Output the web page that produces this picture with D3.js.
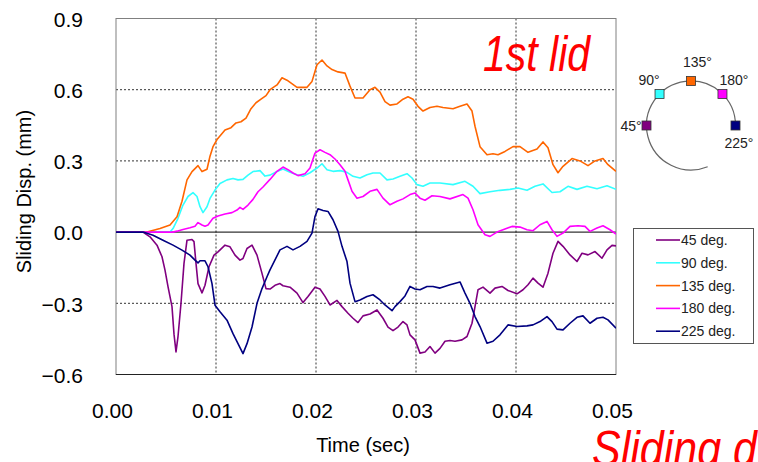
<!DOCTYPE html>
<html>
<head>
<meta charset="utf-8">
<script src="https://cdn.jsdelivr.net/npm/d3@7"></script>
<style>
  html, body { margin: 0; padding: 0; background: #fff; }
  svg { display: block; font-family: "Liberation Sans", Arial, sans-serif; }
</style>
</head>
<body>
<svg id="chart" width="758" height="462"></svg>
<script>
// Sliding displacement of the 1st lid, one record per gauge angle.
// Each point: [time in ms, displacement in mm]
const deg45 = [[0,0],[2.7,0],[3.4,-0.02],[4.1,-0.055],[4.6,-0.104],[4.9,-0.16],[5.2,-0.23],[5.6,-0.314],[5.8,-0.43],[6.0,-0.505],[6.2,-0.44],[6.5,-0.30],[6.8,-0.132],[7.1,-0.034],[7.6,-0.031],[7.8,-0.04],[8.0,-0.132],[8.2,-0.217],[8.6,-0.256],[8.9,-0.224],[9.3,-0.146],[9.8,-0.097],[10.2,-0.083],[10.9,-0.055],[11.4,-0.062],[11.9,-0.097],[12.4,-0.118],[12.7,-0.111],[13.1,-0.069],[13.6,-0.055],[14.1,-0.097],[14.6,-0.174],[15.0,-0.238],[15.4,-0.24],[15.9,-0.224],[16.4,-0.217],[16.7,-0.226],[17.4,-0.232],[18.1,-0.257],[18.7,-0.297],[19.2,-0.271],[19.9,-0.232],[20.4,-0.24],[20.9,-0.271],[21.4,-0.307],[22.1,-0.288],[22.6,-0.314],[23.2,-0.342],[23.7,-0.363],[24.2,-0.381],[24.7,-0.353],[25.4,-0.345],[26.1,-0.328],[26.7,-0.363],[27.2,-0.40],[27.7,-0.415],[28.2,-0.40],[28.7,-0.377],[29.1,-0.391],[29.4,-0.433],[29.9,-0.454],[30.4,-0.51],[30.9,-0.505],[31.4,-0.482],[31.9,-0.51],[32.4,-0.49],[32.9,-0.46],[33.4,-0.457],[33.9,-0.46],[34.6,-0.454],[35.1,-0.44],[35.6,-0.384],[35.9,-0.314],[36.2,-0.243],[36.7,-0.232],[37.4,-0.257],[37.9,-0.236],[38.6,-0.229],[39.2,-0.246],[40.1,-0.26],[40.7,-0.243],[41.2,-0.222],[41.7,-0.194],[42.2,-0.215],[42.7,-0.232],[43.2,-0.173],[43.7,-0.089],[44.2,-0.039],[44.7,-0.06],[45.4,-0.096],[46.1,-0.124],[46.6,-0.089],[47.2,-0.096],[47.9,-0.082],[48.6,-0.11],[49.1,-0.075],[49.6,-0.056],[50,-0.058]];

const deg90 = [[0,0],[5.4,0],[5.7,0.015],[6.2,0.058],[6.7,0.114],[7.2,0.15],[7.7,0.166],[8.1,0.15],[8.4,0.107],[8.7,0.082],[9.1,0.107],[9.4,0.142],[9.9,0.177],[10.4,0.205],[11.1,0.22],[11.7,0.226],[12.2,0.22],[12.7,0.222],[13.2,0.24],[13.7,0.255],[14.4,0.259],[14.9,0.236],[15.4,0.24],[16.1,0.255],[16.7,0.266],[17.4,0.252],[18.1,0.242],[18.7,0.235],[19.4,0.25],[20.1,0.27],[20.6,0.288],[21.1,0.263],[21.7,0.256],[22.4,0.259],[23.1,0.252],[23.7,0.235],[24.4,0.228],[25.1,0.242],[25.7,0.249],[26.4,0.249],[27.1,0.22],[27.7,0.224],[28.4,0.235],[29.1,0.246],[29.6,0.228],[30.1,0.20],[30.7,0.193],[31.4,0.207],[32.4,0.207],[33.7,0.20],[34.9,0.214],[35.7,0.193],[36.4,0.162],[37.4,0.17],[38.4,0.176],[39.4,0.18],[40.2,0.186],[41.1,0.176],[41.9,0.193],[42.7,0.203],[43.6,0.167],[44.4,0.17],[45.2,0.193],[46.1,0.18],[47.1,0.193],[48.1,0.183],[49.1,0.195],[50,0.18]];

const deg135 = [[0,0],[3.1,0],[4.4,0.015],[5.4,0.03],[6.1,0.065],[6.6,0.13],[7.1,0.22],[7.6,0.255],[8.2,0.28],[8.6,0.255],[9.1,0.265],[9.4,0.32],[9.7,0.36],[10.1,0.39],[10.9,0.43],[11.5,0.44],[12.0,0.46],[12.5,0.465],[13.0,0.48],[13.5,0.52],[14.0,0.545],[14.5,0.56],[15.0,0.575],[15.4,0.60],[16.1,0.62],[16.6,0.65],[17.1,0.64],[18.1,0.61],[19.1,0.61],[19.6,0.635],[20.1,0.705],[20.6,0.725],[21.1,0.70],[21.6,0.685],[22.2,0.675],[22.9,0.67],[23.4,0.615],[23.9,0.565],[24.7,0.565],[25.4,0.60],[25.9,0.61],[26.4,0.59],[26.9,0.55],[27.4,0.535],[28.1,0.54],[28.7,0.56],[29.2,0.57],[29.7,0.56],[30.2,0.53],[30.7,0.51],[31.4,0.525],[32.1,0.53],[32.7,0.525],[33.7,0.52],[34.4,0.53],[35.1,0.54],[35.6,0.51],[35.9,0.446],[36.4,0.36],[37.1,0.326],[37.7,0.33],[38.2,0.326],[38.9,0.34],[39.7,0.36],[40.4,0.36],[41.2,0.336],[42.1,0.35],[42.7,0.38],[43.2,0.355],[43.7,0.284],[44.2,0.25],[44.7,0.277],[45.6,0.31],[46.4,0.30],[47.2,0.28],[47.9,0.30],[48.7,0.31],[49.2,0.284],[50,0.256]];

const deg180 = [[0,0],[5.7,0],[6.1,0.004],[6.7,0.011],[7.4,0.018],[7.9,0.025],[8.2,0.04],[8.6,0.03],[8.9,0.025],[9.2,0.03],[9.7,0.058],[10.2,0.068],[10.9,0.076],[11.6,0.082],[12.1,0.093],[12.4,0.104],[12.7,0.096],[13.2,0.114],[13.7,0.138],[14.2,0.17],[14.7,0.19],[15.4,0.222],[16.1,0.256],[16.7,0.274],[17.2,0.263],[17.7,0.249],[18.2,0.238],[18.9,0.246],[19.4,0.27],[19.9,0.333],[20.4,0.347],[20.9,0.336],[21.4,0.326],[21.9,0.308],[22.4,0.284],[22.9,0.256],[23.2,0.22],[23.6,0.172],[24.1,0.143],[24.7,0.15],[25.4,0.172],[26.1,0.18],[26.7,0.143],[27.4,0.115],[28.1,0.13],[28.7,0.14],[29.4,0.158],[29.9,0.165],[30.4,0.143],[30.9,0.134],[31.6,0.153],[32.4,0.15],[33.4,0.14],[34.7,0.158],[35.2,0.143],[35.7,0.094],[36.2,0.031],[36.9,-0.011],[37.4,-0.018],[38.1,0],[38.9,0.013],[39.6,0.024],[40.4,0.021],[41.1,0.01],[41.7,0.006],[42.4,0.031],[43.1,0.045],[43.6,0.01],[44.1,-0.018],[44.7,-0.004],[45.4,0.024],[46.2,0.027],[46.9,0.024],[47.4,0.003],[48.1,0.017],[48.7,0.027],[49.4,0.01],[50,-0.008]];

const deg225 = [[0,0],[2.7,0],[3.7,-0.013],[4.7,-0.034],[5.7,-0.055],[6.6,-0.076],[7.4,-0.097],[7.9,-0.118],[8.2,-0.13],[8.4,-0.121],[8.9,-0.121],[9.2,-0.146],[9.6,-0.217],[9.9,-0.308],[10.4,-0.336],[11.1,-0.371],[11.7,-0.428],[12.2,-0.47],[12.7,-0.512],[13.1,-0.47],[13.6,-0.40],[14.1,-0.30],[14.6,-0.238],[15.1,-0.188],[15.4,-0.159],[15.9,-0.117],[16.4,-0.075],[17.1,-0.06],[17.7,-0.075],[18.4,-0.06],[19.1,-0.039],[19.6,-0.004],[19.9,0.066],[20.2,0.098],[20.7,0.091],[21.2,0.087],[21.7,0.052],[22.2,0.003],[22.6,-0.06],[23.1,-0.124],[23.4,-0.215],[23.9,-0.293],[24.4,-0.286],[25.1,-0.271],[25.7,-0.264],[26.4,-0.286],[26.9,-0.307],[27.6,-0.331],[27.9,-0.314],[28.4,-0.293],[28.9,-0.269],[29.4,-0.229],[29.9,-0.24],[30.4,-0.243],[31.1,-0.229],[31.7,-0.229],[32.4,-0.236],[33.4,-0.222],[34.4,-0.21],[34.9,-0.257],[35.4,-0.30],[35.9,-0.356],[36.4,-0.398],[37.1,-0.468],[37.7,-0.46],[38.4,-0.433],[39.2,-0.391],[40.1,-0.398],[41.1,-0.395],[41.7,-0.391],[42.4,-0.377],[43.1,-0.356],[43.6,-0.377],[44.1,-0.409],[44.7,-0.412],[45.4,-0.384],[46.1,-0.359],[46.7,-0.353],[47.4,-0.384],[48.1,-0.363],[48.7,-0.359],[49.2,-0.37],[50,-0.405]];

const seriesNames = ["45 deg.", "90 deg.", "135 deg.", "180 deg.", "225 deg."];
const seriesAngles = [45, 90, 135, 180, 225];
const seriesColors = ["#800080", "#33FFFF", "#FF6600", "#FF00FF", "#000080"];
const seriesData = [deg45, deg90, deg135, deg180, deg225];

const xTicks = [0, 0.01, 0.02, 0.03, 0.04, 0.05];
const yTicks = [-0.6, -0.3, 0, 0.3, 0.6, 0.9];

const svg = d3.select("#chart");
const plot = { left: 116, right: 616, top: 18.5, bottom: 374.5 };

const x = d3.scaleLinear().domain([0, 0.05]).range([plot.left, plot.right]);
const y = d3.scaleLinear().domain([-0.6, 0.9]).range([plot.bottom, plot.top]);

svg.append("defs").append("clipPath").attr("id", "plotClip")
  .append("rect")
  .attr("x", plot.left).attr("y", plot.top)
  .attr("width", plot.right - plot.left).attr("height", plot.bottom - plot.top);

// Dashed grid
const grid = svg.append("g");
grid.selectAll("line.vg").data(xTicks.filter(t => t > 0 && t < 0.05)).join("line")
  .attr("x1", d => x(d)).attr("x2", d => x(d))
  .attr("y1", plot.top).attr("y2", plot.bottom)
  .attr("stroke", "#333").attr("stroke-width", 1).attr("stroke-dasharray", "2,2");
grid.selectAll("line.hg").data(yTicks.filter(t => t !== 0 && t > -0.6 && t < 0.9)).join("line")
  .attr("x1", plot.left).attr("x2", plot.right)
  .attr("y1", d => y(d)).attr("y2", d => y(d))
  .attr("stroke", "#333").attr("stroke-width", 1).attr("stroke-dasharray", "2,2");

// Zero line
svg.append("line")
  .attr("x1", plot.left).attr("x2", plot.right)
  .attr("y1", y(0)).attr("y2", y(0))
  .attr("stroke", "#000").attr("stroke-width", 1);

// Plot frame
svg.append("rect")
  .attr("x", plot.left).attr("y", plot.top)
  .attr("width", plot.right - plot.left).attr("height", plot.bottom - plot.top)
  .attr("fill", "none").attr("stroke", "#808080").attr("stroke-width", 1);
svg.append("line")
  .attr("x1", plot.left).attr("x2", plot.right)
  .attr("y1", plot.bottom).attr("y2", plot.bottom)
  .attr("stroke", "#222").attr("stroke-width", 1);

// Axes (labels only)
const fmtX = d3.format(".2f");
const fmtY = v => d3.format(".1f")(v).replace("-", "\u2212");

const xAxis = d3.axisBottom(x).tickValues(xTicks).tickFormat(fmtX).tickSize(0).tickPadding(0);
const gx = svg.append("g").attr("transform", `translate(-4,${plot.bottom + 37})`).call(xAxis);
gx.select(".domain").remove();
gx.selectAll("text").attr("font-size", 21).attr("fill", "#000")
  .attr("font-family", "'Liberation Sans', Arial, sans-serif").attr("dy", "0.32em");

const yAxis = d3.axisLeft(y).tickValues(yTicks).tickFormat(fmtY).tickSize(0).tickPadding(0);
const gy = svg.append("g").attr("transform", `translate(83,1)`).call(yAxis);
gy.select(".domain").remove();
gy.selectAll("text").attr("font-size", 21).attr("fill", "#000")
  .attr("font-family", "'Liberation Sans', Arial, sans-serif");

svg.append("text")
  .attr("x", 363).attr("y", 452)
  .attr("text-anchor", "middle").attr("font-size", 20).attr("fill", "#000")
  .text("Time (sec)");

svg.append("text")
  .attr("transform", "translate(31,191.5) rotate(-90)")
  .attr("text-anchor", "middle").attr("font-size", 20).attr("fill", "#000")
  .text("Sliding Disp. (mm)");

// Series
const line = d3.line()
  .x(d => x(d[0] / 1000))
  .y(d => y(d[1]));

svg.append("g").attr("clip-path", "url(#plotClip)")
  .selectAll("path").data(seriesData).join("path")
  .attr("d", line)
  .attr("fill", "none")
  .attr("stroke", (d, i) => seriesColors[i])
  .attr("stroke-width", 1.6)
  .attr("stroke-linejoin", "round");

// Titles
svg.append("text")
  .attr("transform", "translate(483,71) scale(0.82,1)")
  .attr("font-size", 50).attr("font-style", "italic").attr("fill", "#FF0000")
  .text("1st lid");

svg.append("text")
  .attr("transform", "translate(592,466) scale(0.86,1)")
  .attr("font-size", 50).attr("font-style", "italic").attr("fill", "#FF0000")
  .text("Sliding d");

// Legend
const legend = svg.append("g");
legend.append("rect")
  .attr("x", 633.5).attr("y", 228.5).attr("width", 120).attr("height", 115)
  .attr("fill", "#fff").attr("stroke", "#555").attr("stroke-width", 1);
const rows = legend.selectAll("g.row").data(seriesNames).join("g")
  .attr("transform", (d, i) => `translate(0,${240 + i * 22.8})`);
rows.append("line")
  .attr("x1", 656).attr("x2", 680).attr("y1", 0).attr("y2", 0)
  .attr("stroke", (d, i) => seriesColors[i]).attr("stroke-width", 1.6);
rows.append("text")
  .attr("x", 681).attr("y", 5)
  .attr("font-size", 14).attr("fill", "#222")
  .text(d => d);

// Gauge position diagram on the lid circumference
const gauge = { cx: 691, cy: 125.5, r: 44.5 };
const posAngle = a => (225 - a) * Math.PI / 180;
const gx0 = a => gauge.cx + gauge.r * Math.cos(posAngle(a));
const gy0 = a => gauge.cy - gauge.r * Math.sin(posAngle(a));

const arcPath = d3.path();
const arcStart = 0, arcEnd = 292 * Math.PI / 180;
arcPath.moveTo(gauge.cx + gauge.r * Math.cos(arcStart), gauge.cy - gauge.r * Math.sin(arcStart));
arcPath.arc(gauge.cx, gauge.cy, gauge.r, -arcStart, -arcEnd, true);
svg.append("path").attr("d", arcPath.toString())
  .attr("fill", "none").attr("stroke", "#666").attr("stroke-width", 1.2);

svg.selectAll("rect.gauge").data(seriesAngles).join("rect")
  .attr("class", "gauge")
  .attr("x", d => gx0(d) - 4.5).attr("y", d => gy0(d) - 4.5)
  .attr("width", 9).attr("height", 9)
  .attr("fill", (d, i) => seriesColors[i])
  .attr("stroke", "#333").attr("stroke-width", 0.8);

const labelOffsets = [[-26, 5, "start"], [-21, -9, "start"], [-8, -14, "start"], [-3, -9, "start"], [-11, 22, "start"]];
svg.selectAll("text.gauge").data(seriesAngles).join("text")
  .attr("class", "gauge")
  .attr("x", (d, i) => gx0(d) + labelOffsets[i][0])
  .attr("y", (d, i) => gy0(d) + labelOffsets[i][1])
  .attr("font-size", 14).attr("fill", "#222")
  .text(d => d + "\u00B0");
</script>
</body>
</html>
